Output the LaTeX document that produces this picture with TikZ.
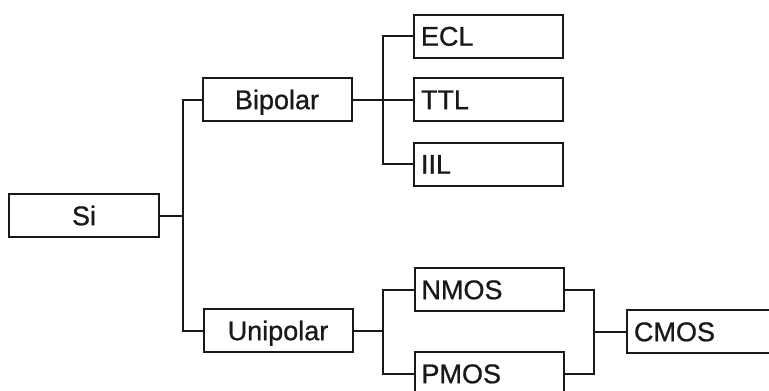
\documentclass[tikz,border=0pt]{standalone}
\usepackage{fontspec}
\setmainfont{Liberation Sans}[BoldFont={Liberation Sans},BoldFeatures={FakeBold=0.8}]
\begin{document}
\begin{tikzpicture}[x=1pt,y=-1pt,
  line width=2pt,
  every node/.style={font=\fontsize{27}{30}\selectfont\bfseries},
  cbox/.style={draw, color=black!90, minimum width=149pt, minimum height=43pt,
    text height=19.3pt, text depth=0pt, inner sep=0pt, align=center},
  lbox/.style={draw, color=black!90, minimum height=43pt, text width=135pt,
    text height=19.3pt, text depth=0pt, inner xsep=7pt, inner ysep=0pt, align=left},
  wire/.style={line width=2pt, color=black!90}]
\useasboundingbox (0,0) rectangle (769,391);

% blocks
\node[cbox, minimum width=150pt] (si)  at (84,215.5) {Si};
\node[cbox] (bip) at (277,99.5)  {Bipolar};
\node[cbox] (uni) at (278,330.5) {Unipolar};
\node[lbox] (ecl) at (488.5,36)  {ECL};
\node[lbox] (ttl) at (488.5,99.5) {TTL};
\node[lbox] (iil) at (488.5,164) {IIL};
\node[lbox] (nmos) at (489,289.5) {NMOS};
\node[lbox] (pmos) at (489,373.5) {PMOS};
\node[lbox] (cmos) at (701.5,331.5) {CMOS};

% junction points of the bus lines
\coordinate (j1) at (183,215.5);
\coordinate (j2) at (383,99.5);
\coordinate (j3) at (383,330.5);
\coordinate (j4) at (594,331.5);

% connectors
\draw[wire] (si.east) -- (j1);
\draw[wire] (bip.west) -| (j1) |- (uni.west);

\draw[wire] (bip.east) -- (j2);
\draw[wire] (ecl.west) -| (j2) |- (iil.west);
\draw[wire] (j2) -- (ttl.west);

\draw[wire] (uni.east) -- (j3);
\draw[wire] (nmos.west) -| (j3) |- (pmos.west);

\draw[wire] (nmos.east) -| (j4) |- (pmos.east);
\draw[wire] (j4) -- (cmos.west);
\end{tikzpicture}
\end{document}
